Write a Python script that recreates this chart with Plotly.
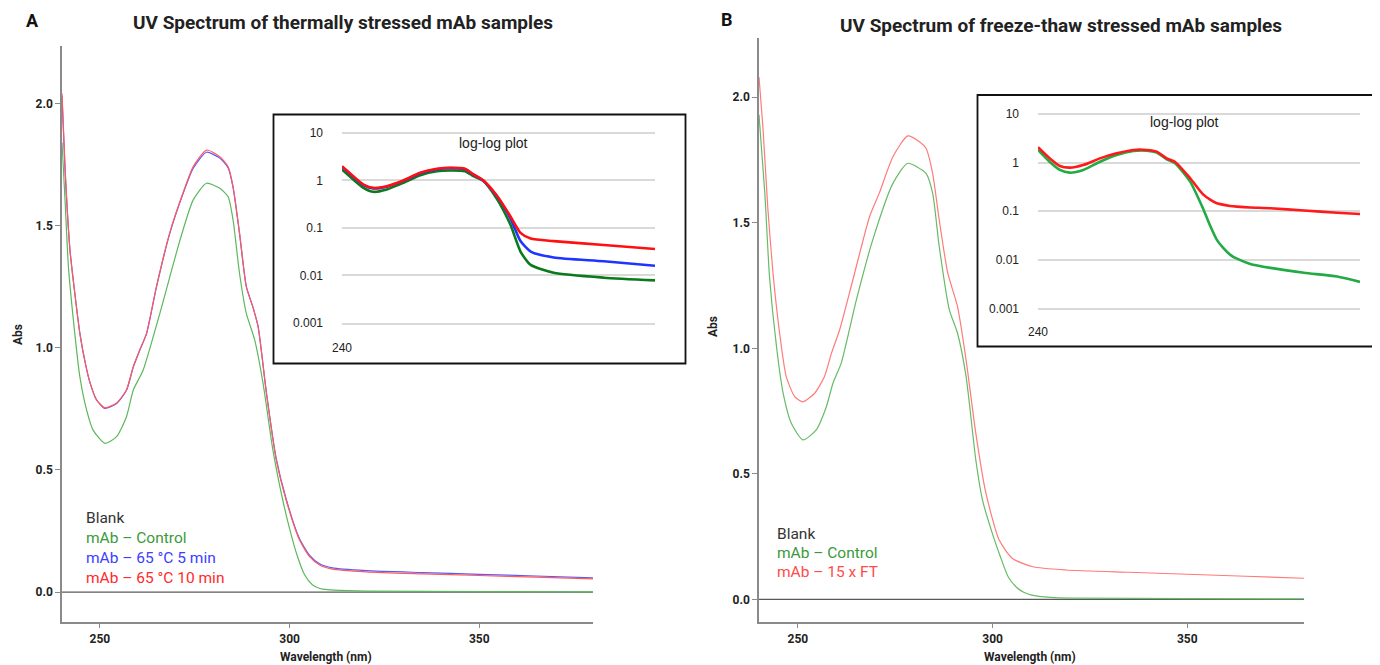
import plotly.graph_objects as go
import math

# ---------------- Panel A (thermal stress) : linear spectrum ----------------
wl_a_red = [240, 240.8, 242.1, 243.4, 244.7, 246.1, 247.4, 249.1, 251.3, 254.4, 257, 258.8, 260.5, 262.3,
            264.9, 268.4, 271.9, 274.6, 278.1, 281.6, 283.8, 285.1, 286.8, 288.6, 290.3, 291.7, 293.9,
            296.5, 299.1, 302.6, 305.3, 307.9, 311.3, 320.2, 335, 350, 365, 380]
abs_a_red = [2.04, 1.74, 1.40, 1.22, 1.06, 0.94, 0.856, 0.787, 0.754, 0.774, 0.827, 0.923, 0.991, 1.06,
             1.25, 1.47, 1.633, 1.741, 1.809, 1.782, 1.741, 1.659, 1.47, 1.25, 1.168, 1.086, 0.814,
             0.541, 0.377, 0.214, 0.145, 0.111, 0.094, 0.083, 0.075, 0.068, 0.061, 0.054]
wl_a_blue = wl_a_red
abs_a_blue = [2.03, 1.73, 1.40, 1.22, 1.06, 0.94, 0.856, 0.787, 0.752, 0.772, 0.826, 0.921, 0.99, 1.058,
              1.248, 1.467, 1.63, 1.735, 1.80, 1.776, 1.736, 1.656, 1.468, 1.25, 1.168, 1.087, 0.816,
              0.545, 0.381, 0.219, 0.150, 0.116, 0.099, 0.088, 0.080, 0.073, 0.066, 0.058]
wl_a_green = [240, 240.8, 241.7, 243, 244.7, 246.5, 248.2, 251.3, 254.4, 257, 258.8, 261.4, 265.8, 271.1,
              274.6, 278.1, 281.6, 283.8, 285.1, 286.8, 288.6, 290.8, 293, 295.6, 298.2, 300, 302, 304,
              306, 308, 310, 315, 320, 350, 380]
abs_a_green = [1.84, 1.605, 1.33, 1.114, 0.882, 0.745, 0.663, 0.609, 0.636, 0.718, 0.827, 0.909, 1.141, 1.44,
               1.605, 1.673, 1.653, 1.618, 1.523, 1.305, 1.141, 1.032, 0.855, 0.582, 0.377, 0.26, 0.15, 0.07,
               0.03, 0.015, 0.01, 0.006, 0.004, 0.002, 0.001]

# ---------------- Panel B (freeze-thaw) : linear spectrum ----------------
wl_b_red = [240, 241, 242.3, 243.6, 245.3, 247, 249.2, 251.3, 254.3, 256.8, 258.6, 260.7, 264.1, 268.4,
            270.9, 274.4, 278.2, 281.2, 282.9, 284.6, 286.3, 288.5, 291, 293.2, 295.7, 298.3, 301.7,
            305.1, 310.3, 318.8, 335, 350, 365, 380]
abs_b_red = [2.08, 1.883, 1.551, 1.299, 1.06, 0.887, 0.807, 0.787, 0.821, 0.887, 0.98, 1.073, 1.272, 1.524,
             1.618, 1.763, 1.846, 1.823, 1.797, 1.697, 1.511, 1.299, 1.166, 0.953, 0.661, 0.422, 0.236,
             0.163, 0.13, 0.117, 0.108, 0.10, 0.092, 0.084]
wl_b_green = [240, 241.5, 242.7, 244.5, 246.2, 248.3, 251.3, 254.7, 257.3, 259, 261.1, 265, 269.2, 274.4,
              278.2, 282.9, 284.6, 286.3, 288.9, 291, 293.2, 295.7, 297.4, 300, 302, 304, 306, 308, 310,
              315, 320, 350, 380]
abs_b_green = [1.93, 1.617, 1.285, 1.006, 0.821, 0.701, 0.635, 0.675, 0.767, 0.861, 0.94, 1.192, 1.431, 1.657,
               1.737, 1.697, 1.618, 1.405, 1.153, 1.06, 0.887, 0.555, 0.396, 0.26, 0.17, 0.09, 0.05, 0.028,
               0.017, 0.008, 0.005, 0.003, 0.002]

wl_blank = [240, 380]
abs_blank = [0, 0]

# ---------------- Inset A : log-log ----------------
wl_ia = [240, 244.0, 247.7, 251.3, 256.3, 262.6, 269.2, 275.9, 281.3, 287.5, 291.1, 295.4, 301.4, 307.3,
         311.9, 316.6, 327.5, 352.5, 380]
ia_red = [2.0, 1.23, 0.82, 0.70, 0.76, 1.0, 1.45, 1.76, 1.85, 1.76, 1.34, 1.0, 0.47, 0.177,
          0.079, 0.060, 0.053, 0.044, 0.036]
ia_blue = [1.95, 1.2, 0.8, 0.68, 0.74, 0.98, 1.42, 1.73, 1.82, 1.73, 1.32, 0.99, 0.46, 0.16,
           0.053, 0.032, 0.024, 0.020, 0.016]
ia_green = [1.70, 1.05, 0.70, 0.578, 0.65, 0.89, 1.29, 1.57, 1.62, 1.57, 1.23, 0.97, 0.40, 0.118,
            0.032, 0.0167, 0.0114, 0.009, 0.0079]

# ---------------- Inset B : log-log ----------------
wl_ib_red = [240, 244.0, 247.6, 251.1, 256.0, 262.2, 268.5, 275.0, 280.3, 284.3, 288.4, 291.8, 298.2, 304.0,
             309.8, 315.8, 318.8, 324.9, 334.4, 350.8, 367.8, 380]
ib_red = [2.07, 1.23, 0.85, 0.786, 0.89, 1.22, 1.55, 1.82, 1.82, 1.68, 1.22, 1.04, 0.476, 0.216,
          0.145, 0.128, 0.124, 0.119, 0.115, 0.103, 0.093, 0.0873]
wl_ib_green = [240, 244.0, 247.6, 251.1, 256.0, 262.2, 268.5, 275.0, 280.3, 284.3, 288.4, 291.8, 298.2, 304.0,
               306.7, 309.8, 312.8, 315.8, 318.8, 324.9, 334.4, 350.8, 367.8, 380]
ib_green = [1.82, 1.04, 0.705, 0.62, 0.705, 1.04, 1.43, 1.73, 1.76, 1.6, 1.17, 0.966, 0.405, 0.106,
            0.052, 0.0257, 0.0171, 0.0126, 0.0105, 0.0082, 0.0068, 0.0054, 0.0045, 0.0035]

legend_a = ["Blank", "mAb – Control", "mAb – 65 °C 5 min", "mAb – 65 °C 10 min"]
legend_b = ["Blank", "mAb – Control", "mAb – 15 x FT"]
titles = ["UV Spectrum of thermally stressed mAb samples", "UV Spectrum of freeze-thaw stressed mAb samples"]
panel_letters = ["A", "B"]
y_ticks = [0.0, 0.5, 1.0, 1.5, 2.0]
x_ticks = [250, 300, 350]
log_ticks = [0.001, 0.01, 0.1, 1, 10]
log_ticktext = ["0.001", "0.01", "0.1", "1", "10"]

OFF = 8  # page body margin
W, H = 1380 - OFF, 665 - OFF
FC = "Roboto, sans-serif"
FS = "Liberation Sans, Arial, sans-serif"


def px(x):
    return (x - OFF) / W


def py(y):
    return (H - (y - OFF)) / H


fig = go.Figure()

spl = dict(shape="spline", smoothing=0.6)
# main A
fig.add_trace(go.Scatter(x=wl_blank, y=abs_blank, mode="lines", line=dict(color="#5a5a5a", width=1.2),
                         xaxis="x", yaxis="y", name=legend_a[0]))
fig.add_trace(go.Scatter(x=wl_a_green, y=abs_a_green, mode="lines", line=dict(color="#5cb85c", width=1.2, **spl),
                         xaxis="x", yaxis="y", name=legend_a[1]))
fig.add_trace(go.Scatter(x=wl_a_blue, y=abs_a_blue, mode="lines", line=dict(color="#5a5aff", width=1.2, **spl),
                         xaxis="x", yaxis="y", name=legend_a[2]))
fig.add_trace(go.Scatter(x=wl_a_red, y=abs_a_red, mode="lines", line=dict(color="#ff5a5a", width=1.2, **spl),
                         xaxis="x", yaxis="y", name=legend_a[3]))
# main B
fig.add_trace(go.Scatter(x=wl_blank, y=abs_blank, mode="lines", line=dict(color="#5a5a5a", width=1.2),
                         xaxis="x2", yaxis="y2", name=legend_b[0]))
fig.add_trace(go.Scatter(x=wl_b_green, y=abs_b_green, mode="lines", line=dict(color="#66bb66", width=1.2, **spl),
                         xaxis="x2", yaxis="y2", name=legend_b[1]))
fig.add_trace(go.Scatter(x=wl_b_red, y=abs_b_red, mode="lines", line=dict(color="#ff7a7a", width=1.2, **spl),
                         xaxis="x2", yaxis="y2", name=legend_b[2]))
# inset A
fig.add_trace(go.Scatter(x=wl_ia, y=ia_green, mode="lines", line=dict(color="#0b7a1a", width=2.6, **spl),
                         xaxis="x3", yaxis="y3"))
fig.add_trace(go.Scatter(x=wl_ia, y=ia_blue, mode="lines", line=dict(color="#1f35ff", width=2.6, **spl),
                         xaxis="x3", yaxis="y3"))
fig.add_trace(go.Scatter(x=wl_ia, y=ia_red, mode="lines", line=dict(color="#ff1010", width=2.6, **spl),
                         xaxis="x3", yaxis="y3"))
# inset B
fig.add_trace(go.Scatter(x=wl_ib_green, y=ib_green, mode="lines", line=dict(color="#22aa44", width=2.6, **spl),
                         xaxis="x4", yaxis="y4"))
fig.add_trace(go.Scatter(x=wl_ib_red, y=ib_red, mode="lines", line=dict(color="#ff1a1a", width=2.6, **spl),
                         xaxis="x4", yaxis="y4"))

axis_main_common = dict(showline=True, linecolor="#8a8a8a", linewidth=1.5, showgrid=False, zeroline=False,
                        ticks="outside", ticklen=5, tickcolor="#8a8a8a", tickwidth=1, automargin=False,
                        tickfont=dict(family=FC, size=12, color="#222", weight="bold"))

YTOP = 1.03
inset_y = dict(type="log", range=[-3, YTOP], tickvals=log_ticks, ticktext=log_ticktext, showgrid=True,
               gridcolor="#d9d9d9", gridwidth=1.5, showline=False, zeroline=False, ticks="", automargin=False,
               ticklabelstandoff=18, tickfont=dict(family=FS, size=12, color="#222"))

fig.update_layout(
    width=W, height=H, margin=dict(l=0, r=0, t=0, b=0, autoexpand=False),
    paper_bgcolor="white", plot_bgcolor="rgba(0,0,0,0)", showlegend=False,
    xaxis=dict(domain=[px(62), px(593)], anchor="y", range=[240, 380], tickvals=x_ticks, **axis_main_common),
    yaxis=dict(domain=[py(621.7), py(45.7)], anchor="x", range=[-0.121, 2.236], tickvals=y_ticks,
               tickformat=".1f", **axis_main_common),
    xaxis2=dict(domain=[px(759), px(1304)], anchor="y2", range=[240, 380], tickvals=x_ticks, **axis_main_common),
    yaxis2=dict(domain=[py(621.7), py(38)], anchor="x2", range=[-0.089, 2.236], tickvals=y_ticks,
                tickformat=".1f", **axis_main_common),
    xaxis3=dict(domain=[px(342), px(655)], anchor="y3", type="log", range=[math.log10(240), math.log10(380)],
                tickvals=[240], ticktext=["240"], showgrid=False, zeroline=False, showline=True,
                linecolor="#d9d9d9", linewidth=1.5, ticks="", ticklabelstandoff=13, automargin=False,
                tickfont=dict(family=FS, size=12, color="#222")),
    yaxis3=dict(domain=[py(323), py(133 - 0.03 * 47.5)], anchor="x3", **inset_y),
    xaxis4=dict(domain=[px(1038), px(1360)], anchor="y4", type="log", range=[math.log10(240), math.log10(380)],
                tickvals=[240], ticktext=["240"], showgrid=False, zeroline=False, showline=True,
                linecolor="#d9d9d9", linewidth=1.5, ticks="", ticklabelstandoff=12, automargin=False,
                tickfont=dict(family=FS, size=12, color="#222")),
    yaxis4=dict(domain=[py(308.3), py(114 - 0.03 * 48.5)], anchor="x4", **inset_y),
)

shapes = [
    dict(type="rect", xref="paper", yref="paper", x0=px(273.5), x1=px(685.5), y0=py(363.5), y1=py(114.5),
         line=dict(color="#111", width=1.8), fillcolor="rgba(0,0,0,0)", layer="above"),
    dict(type="rect", xref="paper", yref="paper", x0=px(977.5), x1=px(1395), y0=py(346.5), y1=py(95),
         line=dict(color="#111", width=1.8), fillcolor="rgba(0,0,0,0)", layer="above"),
]
fig.update_layout(shapes=shapes)

ann = []


def text(x, y, s, size, color="#222", bold=False, family=FC, xanchor="center", angle=0):
    ann.append(dict(x=px(x), y=py(y), xref="paper", yref="paper", text=s, showarrow=False,
                    xanchor=xanchor, yanchor="middle", textangle=angle,
                    font=dict(family=family, size=size, color=color, weight="bold" if bold else "normal")))


# titles
text(32, 20, panel_letters[0], 18, "#111", True)
text(343, 22, titles[0], 19, "#222", True)
text(727, 19, panel_letters[1], 18, "#111", True)
text(1061, 25, titles[1], 19, "#222", True)
# axis titles
text(18, 335, "Abs", 12, "#222", True, angle=-90)
text(713, 327, "Abs", 12, "#222", True, angle=-90)
text(326, 657, "Wavelength (nm)", 12, "#222", True)
text(1030, 657, "Wavelength (nm)", 12, "#222", True)
# legends
leg_a_colors = ["#333333", "#3a9a3a", "#3d3dff", "#ff2a2a"]
for i, (s, c) in enumerate(zip(legend_a, leg_a_colors)):
    text(84, 518 + 20 * i, s, 15.5, c, False, xanchor="left")
leg_b_colors = ["#333333", "#3a9a3a", "#ff4a4a"]
for i, (s, c) in enumerate(zip(legend_b, leg_b_colors)):
    text(775, 534 + 19 * i, s, 15.5, c, False, xanchor="left")
# inset titles
text(493, 143, "log-log plot", 14, "#222", False, family=FS)
text(1184, 122, "log-log plot", 14, "#222", False, family=FS)

fig.update_layout(annotations=ann)

fig.write_html("out.html")
